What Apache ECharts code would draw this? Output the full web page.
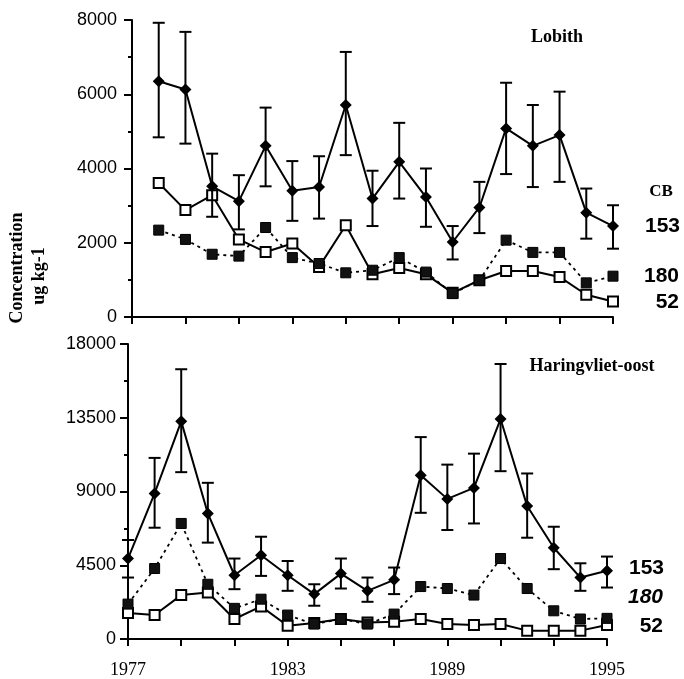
<!DOCTYPE html>
<html><head><meta charset="utf-8">
<script src="https://cdn.jsdelivr.net/npm/echarts@6/dist/echarts.min.js"></script>
<style>html,body{margin:0;padding:0;background:#fff}#c{width:684px;height:679px}</style>
</head><body><div id="c"></div>
<script>
const years = ['1977','1978','1979','1980','1981','1982','1983','1984','1985','1986','1987','1988','1989','1990','1991','1992','1993','1994','1995'];
const yearsTop = ['1978','1979','1980','1981','1982','1983','1984','1985','1986','1987','1988','1989','1990','1991','1992','1993','1994','1995'];

const lobith153 = [6350, 6130, 3520, 3120, 4610, 3400, 3500, 5710, 3190, 4180, 3230, 2020, 2950, 5080, 4610, 4900, 2810, 2450];
const lobith153Hi = [7925, 7680, 4400, 3820, 5640, 4200, 4330, 7140, 3940, 5230, 4000, 2450, 3640, 6310, 5710, 6070, 3460, 3010];
const lobith153Lo = [4840, 4670, 2700, 2360, 3520, 2590, 2650, 4360, 2450, 3190, 2430, 1550, 2260, 3850, 3500, 3640, 2110, 1840];
const lobith180 = [2340, 2090, 1690, 1640, 2410, 1600, 1440, 1190, 1260, 1600, 1210, 630, 990, 2070, 1740, 1740, 920, 1100];
const lobith52 = [3610, 2880, 3280, 2090, 1750, 1980, 1350, 2470, 1150, 1320, 1150, 650, 990, 1240, 1240, 1080, 600, 420];

const har153 = [4910, 8880, 13280, 7660, 3890, 5110, 3890, 2740, 3990, 2940, 3610, 9990, 8550, 9220, 13420, 8110, 5570, 3750, 4160];
const har153Hi = [6040, 11050, 16460, 9530, 4910, 6240, 4760, 3340, 4910, 3750, 4360, 12320, 10640, 11310, 16780, 10100, 6850, 4620, 5030];
const har153Lo = [3750, 6790, 10180, 5880, 3040, 3850, 2940, 2030, 3080, 2270, 2740, 7700, 6650, 7050, 10240, 6180, 4260, 2940, 3140];
const har180 = [2130, 4300, 7050, 3340, 1870, 2430, 1460, 910, 1220, 910, 1520, 3200, 3080, 2680, 4910, 3080, 1720, 1220, 1260];
const har52 = [1580, 1460, 2680, 2840, 1220, 1990, 810, 970, 1220, 1010, 1050, 1220, 910, 850, 910, 510, 510, 510, 850];

const topTicks = {min: 0, max: 8000, interval: 2000};
const botTicks = {min: 0, max: 18000, interval: 4500};

const pair = (xs, vs) => vs.map((v, i) => [xs[i], v]);
const errData = (xs, lo, hi) => lo.map((l, i) => [xs[i], l, hi[i]]);

function errRender(params, api) {
  const x = api.value(0);
  const lo = api.coord([x, api.value(1)]);
  const hi = api.coord([x, api.value(2)]);
  const w = 6;
  const st = {stroke: '#000', lineWidth: 2};
  return {type: 'group', children: [
    {type: 'line', shape: {x1: lo[0], y1: lo[1], x2: hi[0], y2: hi[1]}, style: st},
    {type: 'line', shape: {x1: lo[0]-w, y1: lo[1], x2: lo[0]+w, y2: lo[1]}, style: st},
    {type: 'line', shape: {x1: hi[0]-w, y1: hi[1], x2: hi[0]+w, y2: hi[1]}, style: st}
  ]};
}

const xAxisBase = (gi, showLabels) => ({
  type: 'category', gridIndex: gi, data: years, boundaryGap: false,
  axisLine: {lineStyle: {color: '#000', width: 2}},
  axisTick: {interval: 1, length: 7, lineStyle: {color: '#000', width: 2}},
  axisLabel: {show: showLabels, interval: 5, color: '#000', fontFamily: 'Liberation Serif', fontSize: 18, margin: 22},
  splitLine: {show: false}
});
const yAxisBase = (gi, t, margin) => ({
  type: 'value', gridIndex: gi, min: t.min, max: t.max, interval: t.interval,
  axisLine: {show: true, lineStyle: {color: '#000', width: 2}},
  axisTick: {show: true, length: 8, lineStyle: {color: '#000', width: 2}},
  minorTick: {show: true, splitNumber: 2, length: 4, lineStyle: {color: '#000', width: 2}},
  axisLabel: {color: '#000', fontFamily: 'Liberation Sans', fontSize: 18, margin: margin,
    formatter: v => String(v)},
  splitLine: {show: false}
});

const lineSeries = (gi, data, kind) => {
  const s = {type: 'line', xAxisIndex: gi, yAxisIndex: gi, data: data, z: 3,
    lineStyle: {color: '#000', width: 2}, animation: false};
  if (kind === 'd') {
    s.symbol = 'diamond'; s.symbolSize = 12; s.itemStyle = {color: '#000'}; s.z = 5;
  } else if (kind === 'o') {
    s.symbol = 'rect'; s.symbolSize = 10; s.itemStyle = {color: '#fff', borderColor: '#000', borderWidth: 2};
  } else {
    s.symbol = 'rect'; s.symbolSize = 10; s.itemStyle = {color: '#111', borderColor: '#000', borderWidth: 1};
    s.lineStyle = {color: '#000', width: 1.8, type: [3, 4]};
  }
  return s;
};

const txt = (x, y, t, font, align, extra) => Object.assign({
  type: 'text', x: x, y: y,
  style: {text: t, font: font, fill: '#000', align: align || 'center', verticalAlign: 'middle'}
}, extra || {});

const option = {
  animation: false,
  grid: [
    {left: 132, right: 71, top: 20, bottom: 362},
    {left: 128, right: 77, top: 344, bottom: 39}
  ],
  xAxis: [xAxisBase(0, false), xAxisBase(1, true)],
  yAxis: [yAxisBase(0, topTicks, 15), yAxisBase(1, botTicks, 12)],
  series: [
    lineSeries(0, pair(yearsTop, lobith52), 'o'),
    lineSeries(0, pair(yearsTop, lobith180), 'f'),
    {type: 'custom', xAxisIndex: 0, yAxisIndex: 0, renderItem: errRender,
      data: errData(yearsTop, lobith153Lo, lobith153Hi), encode: {x: 0, y: [1, 2]}, z: 4},
    lineSeries(0, pair(yearsTop, lobith153), 'd'),
    lineSeries(1, pair(years, har52), 'o'),
    lineSeries(1, pair(years, har180), 'f'),
    {type: 'custom', xAxisIndex: 1, yAxisIndex: 1, renderItem: errRender,
      data: errData(years, har153Lo, har153Hi), encode: {x: 0, y: [1, 2]}, z: 4},
    lineSeries(1, pair(years, har153), 'd')
  ],
  graphic: [
    txt(557, 37, 'Lobith', 'bold 18px "Liberation Serif"'),
    txt(592, 366, 'Haringvliet-oost', 'bold 18px "Liberation Serif"'),
    txt(661, 192, 'CB', 'bold 17px "Liberation Serif"'),
    txt(680, 226, '153', 'bold 21px "Liberation Sans"', 'right'),
    txt(679, 276, '180', 'bold 21px "Liberation Sans"', 'right'),
    txt(679, 302, '52', 'bold 21px "Liberation Sans"', 'right'),
    txt(664, 568, '153', 'bold 21px "Liberation Sans"', 'right'),
    txt(663, 597, '180', 'italic bold 21px "Liberation Sans"', 'right'),
    txt(663, 626, '52', 'bold 21px "Liberation Sans"', 'right'),
    txt(17, 268, 'Concentration', 'bold 18px "Liberation Serif"', 'center', {rotation: Math.PI / 2}),
    txt(39, 276, 'ug kg-1', 'bold 18px "Liberation Serif"', 'center', {rotation: Math.PI / 2})
  ]
};
echarts.init(document.getElementById('c'), null, {renderer: 'canvas'}).setOption(option);
</script></body></html>
